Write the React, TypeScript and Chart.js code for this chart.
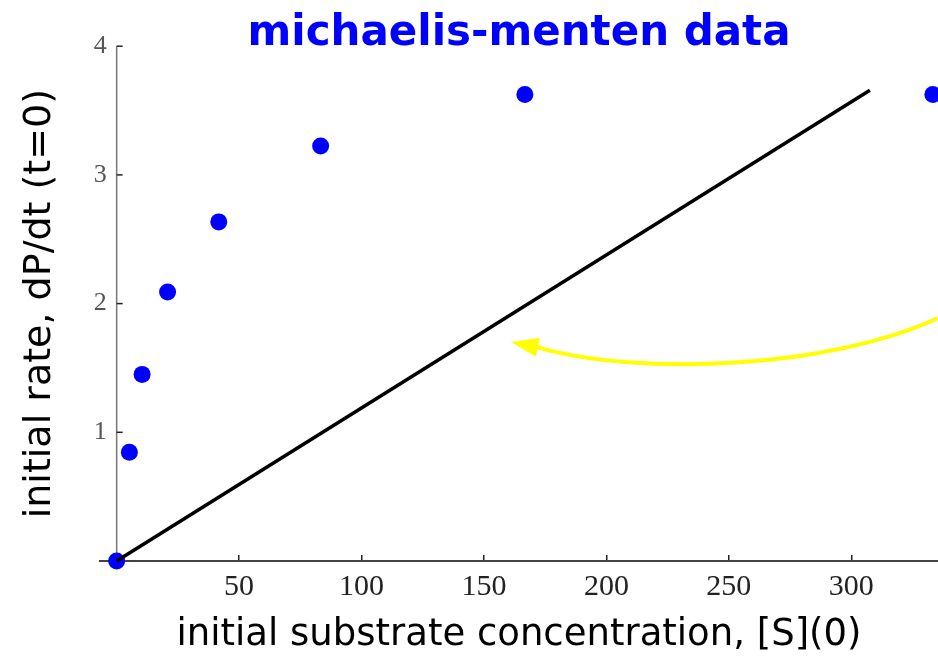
import React, { useEffect, useRef } from 'react';
import { Chart, registerables } from 'chart.js';

Chart.register(...registerables);

// measured data: initial substrate concentration vs initial rate
const substrate = [0, 5.2, 10.4, 20.8, 41.7, 83.3, 166.7, 333.3];
const rate = [0, 0.845, 1.45, 2.09, 2.635, 3.225, 3.625, 3.625];

// straight reference line
const lineX = [0, 307.6];
const lineY = [0, 3.658];

// tick labels
const xTicks = [50, 100, 150, 200, 250, 300];
const yTicks = [1, 2, 3, 4];

// yellow arrow annotation (data coordinates): cubic curve + head
const arrowCurveX = [335.4, 291.3, 213.7, 171.6];
const arrowCurveY = [1.887, 1.499, 1.429, 1.662];
const arrowHeadX = [161.0, 172.8, 171.2];
const arrowHeadY = [1.701, 1.734, 1.587];

const X_MIN = -6.8;
const X_MAX = 335.4;
const Y_MIN = 0;
const Y_MAX = 4;

const overlayPlugin = {
  id: 'overlay',
  beforeDatasetsDraw(chart: any) {
    const { ctx, scales } = chart;
    const x = scales.x;
    const y = scales.y;
    const x0 = x.getPixelForValue(0);
    ctx.save();
    ctx.strokeStyle = '#777777';
    ctx.lineWidth = 1.5;
    ctx.beginPath();
    ctx.moveTo(x0, y.getPixelForValue(Y_MAX));
    ctx.lineTo(x0, y.getPixelForValue(Y_MIN));
    ctx.stroke();
    ctx.strokeStyle = '#222222';
    ctx.lineWidth = 1.5;
    ctx.fillStyle = '#555555';
    ctx.font = "26px 'Liberation Serif', serif";
    ctx.textAlign = 'right';
    ctx.textBaseline = 'middle';
    for (const t of yTicks) {
      const py = y.getPixelForValue(t);
      ctx.beginPath();
      ctx.moveTo(x0, py);
      ctx.lineTo(x0 + 6, py);
      ctx.stroke();
      ctx.fillText(String(t), x0 - 10, py);
    }
    ctx.restore();
  },
  afterDatasetsDraw(chart: any) {
    const { ctx, scales } = chart;
    const x = scales.x;
    const y = scales.y;
    const px = (v: number) => x.getPixelForValue(v);
    const py = (v: number) => y.getPixelForValue(v);
    ctx.save();
    ctx.strokeStyle = '#FFFF00';
    ctx.fillStyle = '#FFFF00';
    ctx.lineWidth = 4;
    ctx.beginPath();
    ctx.moveTo(px(arrowCurveX[0]), py(arrowCurveY[0]));
    ctx.bezierCurveTo(
      px(arrowCurveX[1]), py(arrowCurveY[1]),
      px(arrowCurveX[2]), py(arrowCurveY[2]),
      px(arrowCurveX[3]), py(arrowCurveY[3])
    );
    ctx.stroke();
    ctx.beginPath();
    ctx.moveTo(px(arrowHeadX[0]), py(arrowHeadY[0]));
    ctx.lineTo(px(arrowHeadX[1]), py(arrowHeadY[1]));
    ctx.lineTo(px(arrowHeadX[2]), py(arrowHeadY[2]));
    ctx.closePath();
    ctx.fill();
    ctx.restore();
  },
};

export default function App() {
  const canvasRef = useRef<HTMLCanvasElement | null>(null);

  useEffect(() => {
    if (!canvasRef.current) return;
    const chart = new Chart(canvasRef.current, {
      type: 'scatter',
      data: {
        datasets: [
          {
            label: 'line',
            data: lineX.map((v, i) => ({ x: v, y: lineY[i] })),
            showLine: true,
            borderColor: '#000000',
            borderWidth: 3.5,
            pointRadius: 0,
            clip: false,
          } as any,
          {
            label: 'data',
            data: substrate.map((v, i) => ({ x: v, y: rate[i] })),
            backgroundColor: '#0000FF',
            borderWidth: 0,
            pointRadius: 8.5,
            clip: false,
          } as any,
        ],
      },
      options: {
        animation: false,
        responsive: false,
        devicePixelRatio: 1,
        layout: { padding: 0, autoPadding: false },
        plugins: {
          legend: { display: false },
          tooltip: { enabled: false },
          title: {
            display: true,
            text: 'michaelis-menten data',
            color: '#0000FF',
            fullSize: false,
            font: { family: "'DejaVu Sans', sans-serif", size: 42, weight: 'bold', lineHeight: 0.6 },
            padding: { top: 21, bottom: 0 },
          },
        },
        scales: {
          x: {
            type: 'linear',
            position: 'bottom',
            min: X_MIN,
            max: X_MAX,
            afterBuildTicks: (scale: any) => {
              scale.ticks = xTicks.map((v) => ({ value: v }));
            },
            afterFit: (scale: any) => {
              scale.height = 97;
              scale.paddingLeft = 0;
              scale.paddingRight = 0;
            },
            border: { display: true, color: '#444444', width: 2 },
            grid: {
              display: true,
              drawOnChartArea: false,
              drawTicks: true,
              tickLength: -6,
              color: '#222222',
              lineWidth: 1.5,
            },
            ticks: {
              color: '#222222',
              padding: 14,
              maxRotation: 0,
              autoSkip: false,
              font: { family: "'Liberation Serif', serif", size: 30 },
              callback: (v: any) => String(v),
            },
            title: {
              display: true,
              text: 'initial substrate concentration, [S](0)',
              color: '#000000',
              font: { family: "'DejaVu Sans', sans-serif", size: 37 },
              padding: { top: 0, bottom: 0 },
            },
          },
          y: {
            type: 'linear',
            position: 'left',
            min: Y_MIN,
            max: Y_MAX,
            afterBuildTicks: (scale: any) => {
              scale.ticks = yTicks.map((v) => ({ value: v }));
            },
            afterFit: (scale: any) => {
              scale.width = 100;
              scale.paddingTop = 0;
              scale.paddingBottom = 0;
            },
            border: { display: false },
            grid: { display: false, drawTicks: false },
            ticks: { display: false },
            title: {
              display: true,
              text: 'initial rate, dP/dt (t=0)',
              color: '#000000',
              font: { family: "'DejaVu Sans', sans-serif", size: 38 },
              padding: { top: 17, bottom: 0 },
            },
          },
        },
      },
      plugins: [overlayPlugin],
    } as any);
    return () => chart.destroy();
  }, []);

  return (
    <div style={{ position: 'fixed', left: 0, top: 0, width: 938, height: 658, background: '#ffffff' }}>
      <canvas ref={canvasRef} width={938} height={658} style={{ display: 'block' }} />
    </div>
  );
}
